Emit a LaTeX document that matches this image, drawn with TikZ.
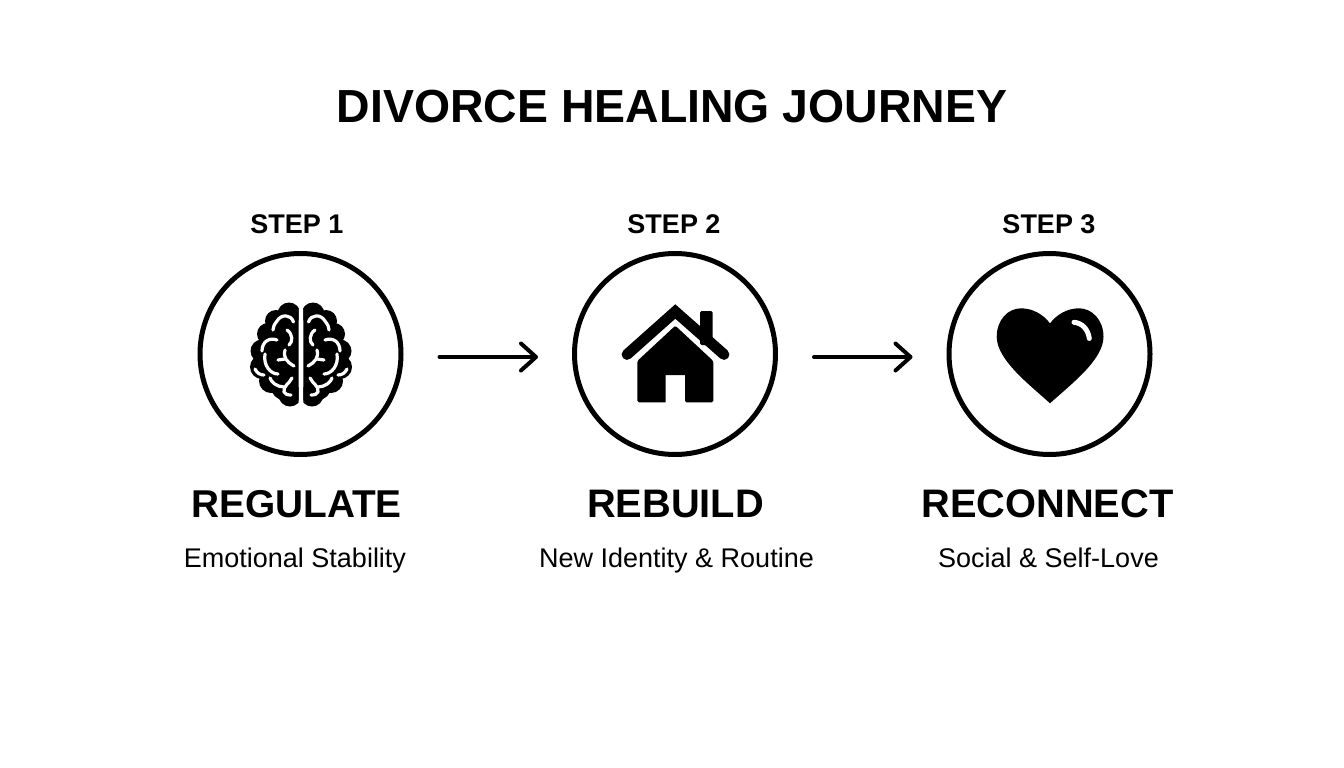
\documentclass[tikz,border=0pt]{standalone}
\usepackage{fontspec}
\setmainfont{Liberation Sans}
\usetikzlibrary{arrows.meta}
\tikzset{
  x=1pt,y=-1pt,
  ring/.style={circle,draw=black,line width=5pt,minimum size=201pt,inner sep=0pt,fill=white},
  titletext/.style={font=\fontsize{46.4}{50}\selectfont\bfseries,inner sep=0pt,anchor=base},
  steptext/.style={font=\fontsize{27}{30}\selectfont\bfseries,inner sep=0pt,anchor=base},
  nametext/.style={font=\fontsize{39.8}{44}\selectfont\bfseries,inner sep=0pt,anchor=base},
  subtext/.style={font=\fontsize{27}{30}\selectfont,inner sep=0pt,anchor=base},
  flow/.style={line width=4pt,line cap=round,-{Straight Barb[length=15pt,width=27pt,round]}},
  fold/.style={draw=white,line width=3.2pt,line cap=round,line join=round,fill=none},
}
\newcommand{\hemi}{%
  \begin{scope}
    \clip (2.3,-60) rectangle (60,60);
    \fill (12,-40) circle (11.5) (25,-33) circle (11) (33,-20) circle (11)
          (39,-3) circle (11.5) (39,13) circle (12) (30,27) circle (12) (17,33) circle (13) (11,41) circle (11.5);
    \fill (0,-46) -- (12,-46) -- (30,-28) -- (42,-5) -- (42,15) -- (30,30) -- (12,48) -- (0,46) -- cycle;
  \end{scope}
  \draw[fold] (7.5,-32) .. controls (10,-40) and (20,-40) .. (24,-33) .. controls (27,-29) and (28,-27) .. (28,-24);
  \draw[fold] (14,-24) .. controls (8,-20) and (8,-12) .. (12,-9);
  \draw[fold] (24,-14) .. controls (32,-17) and (39,-12) .. (39,-3);
  \draw[fold] (16,-4) .. controls (18,4) and (14,8) .. (7,12);
  \draw[fold] (16,5) -- (23,6);
  \draw[fold] (36,0) .. controls (38,12) and (30,20) .. (23,20);
  \draw[fold] (46,15) .. controls (44,19) and (41,21) .. (37,21);
  \draw[fold] (9,24) .. controls (12,30) and (18,32) .. (17,38) .. controls (16,40) and (14,41) .. (10,41);
  \draw[fold] (17,33) .. controls (24,33) and (30,28) .. (31,24);
}
\begin{document}
\begin{tikzpicture}
\useasboundingbox (0,0) rectangle (1344,768);
\fill[white] (0,0) rectangle (1344,768);

\node[titletext] (title) at (672,122) {DIVORCE HEALING JOURNEY};

\node[ring] (c1) at (300.5,354) {};
\node[ring] (c2) at (675,354) {};
\node[ring] (c3) at (1049.5,354) {};

\node[steptext] (s1) at (297,233) {STEP 1};
\node[steptext] (s2) at (674,233) {STEP 2};
\node[steptext] (s3) at (1049,233) {STEP 3};

\node[nametext,font=\fontsize{38.8}{44}\selectfont\bfseries] (n1) at (296.5,517) {REGULATE};
\node[nametext] (n2) at (675.5,517) {REBUILD};
\node[nametext] (n3) at (1047.5,517) {RECONNECT};

\node[subtext] (d1) at (295,567) {Emotional Stability};
\node[subtext] (d2) at (676.5,567) {New Identity \& Routine};
\node[subtext] (d3) at (1048.5,567) {Social \& Self-Love};

% connectors
\draw[flow,shorten <=36pt,shorten >=34pt] ([yshift=-3pt]c1.east) -- ([yshift=-3pt]c2.west);
\draw[flow,shorten <=36pt,shorten >=34pt] ([yshift=-3pt]c2.east) -- ([yshift=-3pt]c3.west);

% brain
\begin{scope}[shift={(301,354)}]
  \hemi
  \begin{scope}[xscale=-1]\hemi\end{scope}
\end{scope}

% house
\fill[rounded corners=1.5pt] (700,311) rectangle (712.7,345);
\draw[line width=10.8pt,line cap=round,line join=miter] (627,354.5) -- (675.3,311.5) -- (724,354.5);
\fill[rounded corners=1.5pt] (637.3,361) -- (675.3,325.7) -- (713.3,361) -- (713.3,402.3) -- (685,402.3) [sharp corners] -- (685,375) -- (665.7,375) -- (665.7,402.3) [rounded corners=1.5pt] -- (637.3,402.3) -- cycle;

% heart
\fill (1050,403.3) .. controls (1030,385) and (996.7,360) .. (996.7,336.7)
  .. controls (996.7,320) and (1008,308.3) .. (1021,308.3)
  .. controls (1033,308.3) and (1044,315) .. (1050,323.5)
  .. controls (1056,315) and (1067,308.3) .. (1079,308.3)
  .. controls (1092,308.3) and (1103.5,320) .. (1103.5,336.7)
  .. controls (1103.5,360) and (1070,385) .. (1050,403.3) -- cycle;
\draw[white,line width=5pt,line cap=round] (1074,322.3) .. controls (1082,323) and (1088,329) .. (1089.3,338.5);
\end{tikzpicture}
\end{document}
